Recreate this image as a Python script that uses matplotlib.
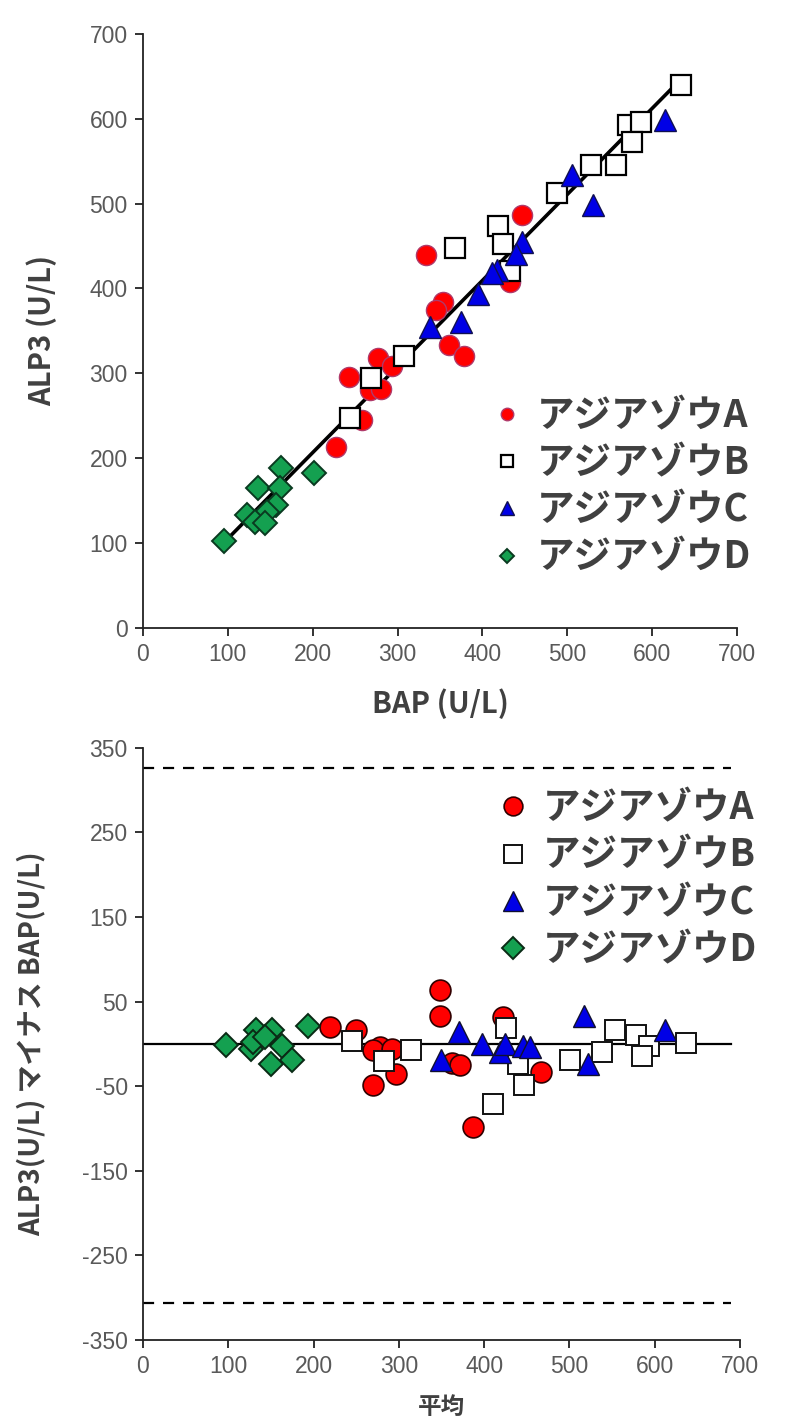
import matplotlib
matplotlib.use("Agg")
import matplotlib.pyplot as plt

plt.rcParams['font.family'] = ['Liberation Sans', 'Noto Sans CJK JP', 'DejaVu Sans']
plt.rcParams['axes.unicode_minus'] = False

# --- top panel: BAP vs ALP3 ---
a_bap = [334, 447, 432, 353, 345, 360, 378, 277, 243, 268, 293, 258, 228, 280]
a_alp = [439, 487, 408, 384, 375, 333, 320, 318, 296, 280, 308, 245, 213, 282]
b_bap = [634, 572, 587, 576, 557, 528, 488, 418, 424, 433, 368, 307, 269, 244]
b_alp = [640, 593, 596, 573, 545, 546, 513, 474, 452, 420, 448, 320, 295, 247]
c_bap = [615, 506, 530, 446, 440, 417, 411, 395, 375, 338]
c_alp = [599, 534, 498, 455, 441, 422, 418, 394, 361, 355]
d_bap = [201, 163, 136, 161, 157, 146, 122, 132, 144, 95]
d_alp = [183, 188, 165, 165, 145, 137, 133, 125, 123, 102]

fit_slope = 1.014
fit_intercept = 3.8
fit_range = [95, 635]

# --- bottom panel: mean vs difference ---
a_mean = [348, 348, 219, 250, 278, 270, 292, 297, 270, 362, 372, 387, 422, 467]
a_diff = [64, 33, 20, 16, -4, -7, -6, -35, -48, -22, -25, -98, 32, -33]
b_mean = [245, 283, 314, 426, 440, 447, 410, 501, 538, 553, 578, 593, 585, 637]
b_diff = [4, -20, -7, 19, -24, -49, -71, -19, -10, 17, 10, -3, -14, 1]
c_mean = [371, 350, 398, 419, 424, 445, 454, 517, 522, 612]
c_diff = [14, -19, 0, -9, 0, -2, -4, 33, -24, 17]
d_mean = [97, 127, 133, 129, 151, 143, 163, 150, 175, 193]
d_diff = [-1, -6, 16, 2, 16, 8, -2, -24, -19, 21]

bias = 0
upper_loa = 326
lower_loa = -306
line_range = [0, 690]

labels = ['アジアゾウA', 'アジアゾウB', 'アジアゾウC', 'アジアゾウD']
top_ticks = list(range(0, 701, 100))
diff_ticks = list(range(-350, 351, 100))

RED = '#ff0000'
BLUE = '#0000e6'
GREEN = '#14a050'
TICK_COLOR = '#595959'
LABEL_COLOR = '#404040'
JP = ['Noto Sans CJK JP', 'DejaVu Sans']


def style_axes(ax):
    for side in ('top', 'right'):
        ax.spines[side].set_visible(False)
    for side in ('left', 'bottom'):
        ax.spines[side].set_linewidth(1.3)
        ax.spines[side].set_color('#222222')
    ax.tick_params(direction='out', length=6, width=1.3, color='#222222',
                   labelsize=16.5, labelcolor=TICK_COLOR, pad=5)


def style_legend(leg):
    for t in leg.get_texts():
        t.set_color(LABEL_COLOR)


fig = plt.figure(figsize=(7.9, 14.27), dpi=100)

# top scatter
ax1 = fig.add_axes([0.181, 0.560, 0.752, 0.4163])
ax1.plot(fit_range, [fit_slope * x + fit_intercept for x in fit_range],
         color='black', lw=2.6, zorder=2)
ax1.plot(a_bap, a_alp, 'o', ms=14.5, mfc=RED, mec='#b03a6a', mew=1.0,
         label=labels[0], zorder=3)
ax1.plot(b_bap, b_alp, 's', ms=14.5, mfc='white', mec='black', mew=1.6,
         label=labels[1], zorder=3)
ax1.plot(c_bap, c_alp, '^', ms=16, mfc=BLUE, mec='#101050', mew=1.0,
         label=labels[2], zorder=3)
ax1.plot(d_bap, d_alp, 'D', ms=12, mfc=GREEN, mec='#0a3a20', mew=1.4,
         label=labels[3], zorder=3)
ax1.set_xlim(0, 700)
ax1.set_ylim(0, 700)
ax1.set_xticks(top_ticks)
ax1.set_yticks(top_ticks)
style_axes(ax1)
ax1.set_xlabel('BAP (U/L)', fontsize=21, fontweight='bold', color=LABEL_COLOR,
               family=JP, labelpad=16)
ax1.set_ylabel('ALP3 (U/L)', fontsize=21, fontweight='bold', color=LABEL_COLOR,
               family=JP, labelpad=23)
leg1 = ax1.legend(loc='upper left', bbox_to_anchor=(0.549, 0.422), frameon=False,
                  markerscale=0.62, handlelength=1.0, handletextpad=0.3,
                  labelspacing=0.22, borderpad=0,
                  prop={'family': JP, 'weight': 'bold', 'size': 27})
style_legend(leg1)

# bottom Bland-Altman
ax2 = fig.add_axes([0.181, 0.061, 0.7557, 0.4149])
ax2.plot(line_range, [bias, bias], color='black', lw=1.6, zorder=2)
ax2.plot(line_range, [upper_loa, upper_loa], color='black', lw=1.6,
         ls=(0, (5, 4)), zorder=2)
ax2.plot(line_range, [lower_loa, lower_loa], color='black', lw=1.6,
         ls=(0, (5, 4)), zorder=2)
ax2.plot(a_mean, a_diff, 'o', ms=15, mfc=RED, mec='#300000', mew=1.2,
         label=labels[0], zorder=3)
ax2.plot(b_mean, b_diff, 's', ms=15, mfc='white', mec='#111111', mew=1.4,
         label=labels[1], zorder=3)
ax2.plot(c_mean, c_diff, '^', ms=16, mfc=BLUE, mec='#101030', mew=1.0,
         label=labels[2], zorder=3)
ax2.plot(d_mean, d_diff, 'D', ms=12.5, mfc=GREEN, mec='#0a2a15', mew=1.4,
         label=labels[3], zorder=3)
ax2.set_xlim(0, 700)
ax2.set_ylim(-350, 350)
ax2.set_xticks(top_ticks)
ax2.set_yticks(diff_ticks)
style_axes(ax2)
ax2.set_xlabel('平均', fontsize=17, fontweight='bold', color=LABEL_COLOR,
               family=JP, labelpad=12)
ax2.set_ylabel('ALP3(U/L) マイナス BAP(U/L)', fontsize=20, fontweight='bold',
               color=LABEL_COLOR, family=JP, labelpad=26)
leg2 = ax2.legend(loc='upper left', bbox_to_anchor=(0.557, 0.963), frameon=False,
                  markerscale=0.9, handlelength=1.0, handletextpad=0.3,
                  labelspacing=0.22, borderpad=0,
                  prop={'family': JP, 'weight': 'bold', 'size': 27})
style_legend(leg2)

fig.savefig('out.png', dpi=100, facecolor='white')
